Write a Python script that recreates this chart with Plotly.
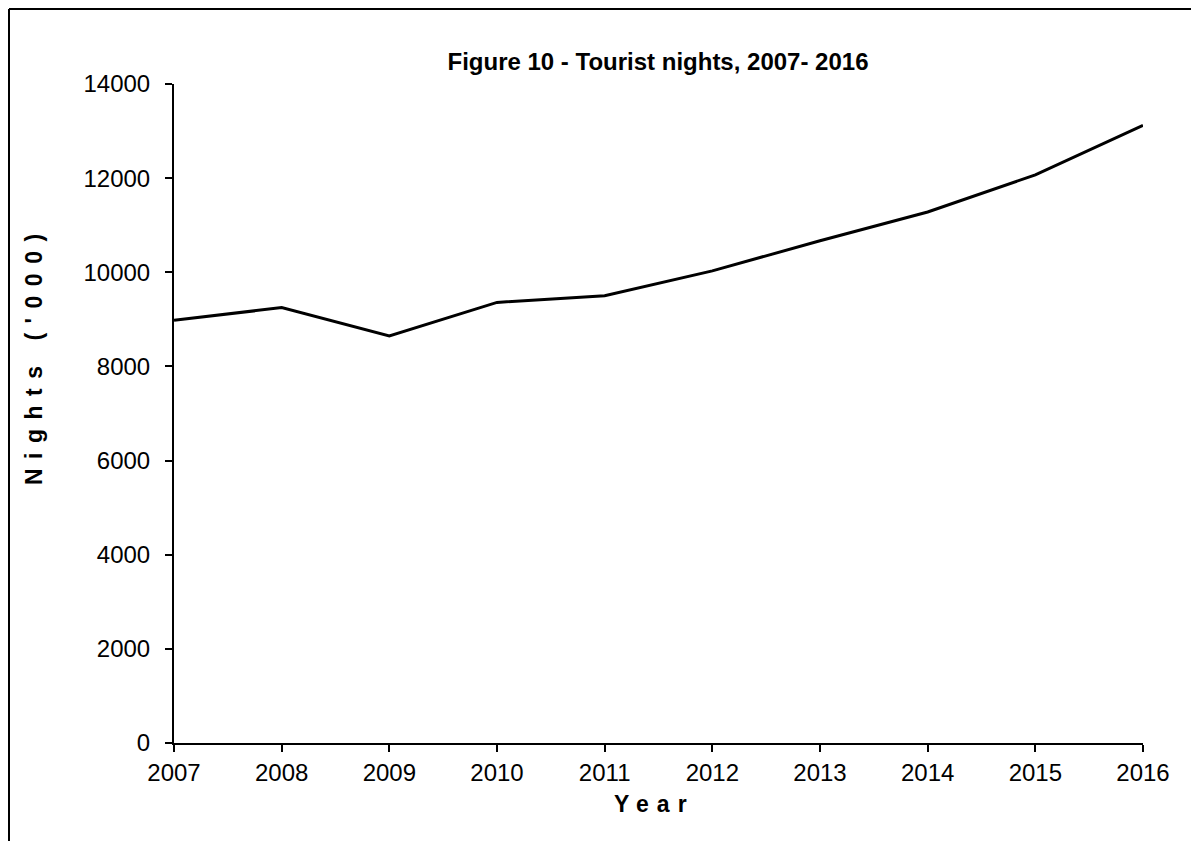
import plotly.graph_objects as go

years = [2007, 2008, 2009, 2010, 2011, 2012, 2013, 2014, 2015, 2016]
nights = [8980, 9250, 8650, 9360, 9500, 10030, 10670, 11280, 12070, 13120]
y_ticks = [0, 2000, 4000, 6000, 8000, 10000, 12000, 14000]

FONT = "Liberation Sans, Arial, sans-serif"
W, H = 1191, 833
L, R, T, B = 166, 56, 76, 98
PW, PH = W - L - R, H - T - B

fig = go.Figure()
fig.add_trace(go.Scatter(
    x=years, y=nights, mode="lines",
    line=dict(color="black", width=3),
    showlegend=False, hoverinfo="skip",
))

fig.update_layout(
    width=W, height=H,
    paper_bgcolor="white", plot_bgcolor="white",
    margin=dict(l=L, r=R, t=T, b=B),
    title=dict(
        text="<b>Figure 10 - Tourist nights, 2007- 2016</b>",
        x=650 / W, xanchor="center",
        y=1 - 54 / H, yanchor="middle",
        font=dict(family=FONT, size=24, color="black"),
    ),
    font=dict(family=FONT, color="black"),
)

fig.update_xaxes(
    range=[2007, 2016], tickvals=years, ticktext=[str(y) for y in years],
    showgrid=False, zeroline=False,
    showline=True, linecolor="black", linewidth=2,
    ticks="outside", ticklen=7, tickwidth=2, tickcolor="black",
    tickfont=dict(family=FONT, size=24, color="black"),
)
fig.update_yaxes(
    range=[0, 14000], tickvals=y_ticks, ticktext=[str(v) for v in y_ticks],
    showgrid=False, zeroline=False,
    showline=True, linecolor="black", linewidth=2,
    ticks="outside", ticklen=7, tickwidth=2, tickcolor="black",
    ticklabelstandoff=10,
    tickfont=dict(family=FONT, size=24, color="black"),
)

# axis titles
fig.add_annotation(
    text='<b><span style="letter-spacing:8px">Year</span></b>',
    xref="paper", yref="paper", x=(646 - L) / PW, y=(H - B - 796) / PH,
    xanchor="center", yanchor="middle", showarrow=False,
    font=dict(family=FONT, size=23, color="black"),
)
fig.add_annotation(
    text='<b><span style="letter-spacing:9.5px">Nights (\'000)</span></b>',
    xref="paper", yref="paper", x=(26 - L) / PW, y=(H - B - 347) / PH,
    xanchor="center", yanchor="middle", showarrow=False, textangle=-90,
    font=dict(family=FONT, size=23, color="black"),
)

# outer frame (chart border, cropped at right/bottom)
top = (H - B - 1) / PH
left = (1 - L) / PW
fig.add_shape(type="line", xref="paper", yref="paper",
              x0=left, x1=1.2, y0=top, y1=top,
              line=dict(color="black", width=2))
fig.add_shape(type="line", xref="paper", yref="paper",
              x0=left, x1=left, y0=top, y1=-0.3,
              line=dict(color="black", width=2))

fig.write_html("out.html")
